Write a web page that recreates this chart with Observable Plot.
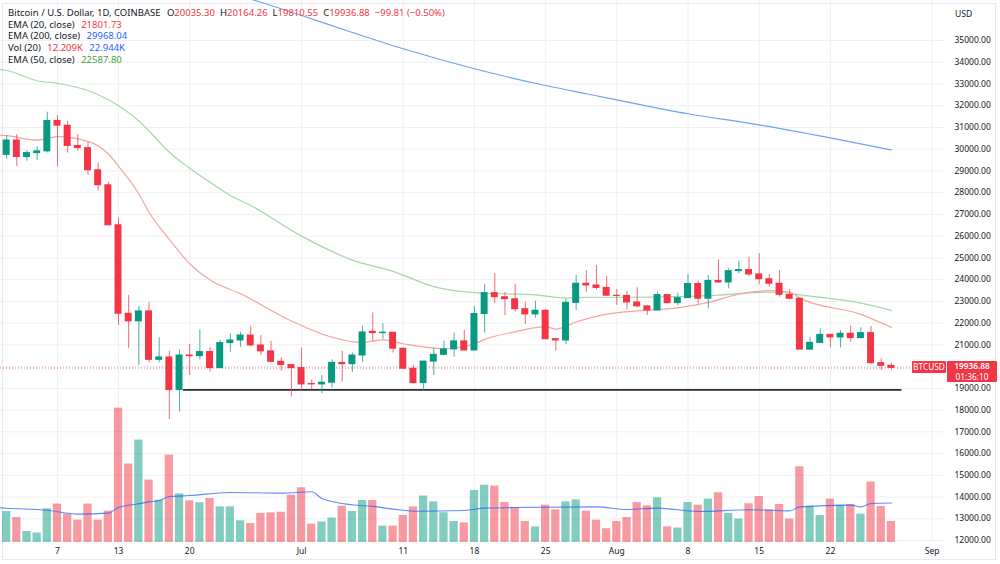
<!DOCTYPE html>
<html>
<head>
<meta charset="utf-8">
<script src="https://cdn.jsdelivr.net/npm/d3@7"></script>
<script src="https://cdn.jsdelivr.net/npm/@observablehq/plot@0.6"></script>
<style>
  html, body { margin: 0; padding: 0; background: #ffffff; }
  #wrap { position: relative; width: 1000px; height: 564px; overflow: hidden; background: #ffffff; font-family: "Noto Sans", sans-serif; }
  #wrap > svg, #wrap > figure { position: absolute; left: 0; top: 0; margin: 0; }
  .frame { position: absolute; left: 2px; top: 3px; width: 994px; height: 557px; border: 1px solid #e6e8ee; box-sizing: border-box; pointer-events: none; }
  .legend { position: absolute; left: 8px; top: 7px; font-size: 9.5px; line-height: 11.7px; color: #131722; white-space: nowrap; }
  .legend span { margin-right: 4px; }
  .legend .v { margin-right: 5px; }
  .red { color: #f23645; }
  .blue { color: #2962ff; }
  .green { color: #43a047; }
  .usd { position: absolute; left: 955px; top: 8px; font-size: 8.5px; color: #131722; }
  .tag { position: absolute; background: #f23645; color: #ffffff; font-size: 8.3px; text-align: center; border-radius: 1px; }
</style>
</head>
<body>
<div id="wrap"><div class="frame"></div></div>
<script>
// ---------------- data ----------------
const firstDay = "2022-06-02";
const lastDay = "2022-08-28";
const openP  = [29740,30400,29640,29820,29900,31300,31080,30150,30050,29030,28340,26500,22430,22080,22540,20310,20420,18920,20510,20480,
                20670,19930,21080,21200,21430,20970,20700,20220,20070,19930,19200,19180,19260,20170,20110,20510,21600,21540,21560,20820,
                19900,19240,20230,20540,20790,21160,20740,22420,23380,23190,23100,22640,22400,22570,21260,21200,22930,23810,23730,23620,
                23260,23250,22950,22770,22580,23290,22920,23150,23800,23120,23940,23870,24390,24440,24240,24020,23810,23300,23120,20780,
                21090,21460,21340,21510,21310,21540,20160,20035.30];
const highP  = [30630,30680,29940,30120,31700,31550,31280,30660,30320,29370,28480,26840,23270,22770,22950,21330,20710,20770,21020,21690,
                20870,21200,21510,21580,21850,21430,21160,20400,20080,20850,19390,19590,20310,20700,20620,21850,22470,21970,21560,20860,
                20050,20240,20850,21160,21550,21660,22760,23780,24270,23410,23780,22960,23010,22610,21300,23090,24190,24420,24650,24140,
                23550,23450,23620,22810,23420,23320,23380,24230,23930,24190,24910,24500,24850,25030,25190,24240,24420,23550,23140,21350,
                21740,21470,21660,21880,21780,21850,20360,20164.26];
const lowP   = [29530,29210,29450,29480,29830,29180,29820,29900,28790,28070,26480,21890,20820,20050,20180,20180,17560,17920,19590,20310,
                19750,19900,20670,20890,20920,20510,20190,19790,18600,18900,18930,18750,19010,19290,19740,20200,21160,21260,20620,19880,
                19200,18860,19590,20500,20430,20730,20740,21540,22890,22340,22500,21940,22230,21230,20710,21020,22580,23420,23530,23220,
                22810,22610,22700,22350,22580,22890,22810,23140,22880,22660,23840,23580,24270,24140,23760,23650,23190,23070,20770,20740,
                21060,20860,20860,21120,21280,20100,19820,19810.55];
const closeP = [30400,29640,29820,29900,31300,31080,30150,30050,29030,28340,26500,22430,22080,22540,20310,20420,18920,20510,20480,20670,
                19930,21080,21200,21430,20970,20700,20220,20070,19930,19180,19180,19260,20170,20110,20510,21570,21540,21560,20820,19900,
                19240,20230,20540,20790,21160,20740,22420,23380,23190,23100,22640,22400,22570,21260,21200,22930,23810,23730,23620,23260,
                23250,22950,22770,22580,23290,22920,23150,23800,23120,23940,23870,24390,24440,24240,24020,23810,23300,23120,20780,21090,
                21460,21340,21510,21310,21540,20160,20036.69,19936.88];
const volumeK = [18.0,14.5,6.4,5.5,19.6,22.3,16.5,13.0,22.3,13.0,18.2,78.1,45.6,59.5,36.3,24.6,50.8,28.3,24.2,23.1,
                 25.6,20.7,20.7,12.6,11.0,16.9,17.2,17.6,27.5,31.8,10.7,11.9,14.2,21.1,18.0,24.4,24.4,9.5,9.5,15.7,
                 20.7,27.0,23.6,17.3,12.2,11.4,30.2,33.3,32.8,23.2,20.3,12.2,9.1,21.7,19.0,23.6,24.8,18.2,13.0,8.0,
                 12.2,14.5,23.2,21.3,26.0,9.1,8.4,23.2,21.7,25.2,28.9,16.9,13.6,22.5,26.7,19.0,22.1,13.6,44.0,21.1,
                 15.7,25.2,21.7,22.1,16.5,35.1,20.9,12.209];

// indicator lines: [date, value]
const ema20 = [["2022-06-01",30650],["2022-06-02",30620],["2022-06-05",30420],["2022-06-07",30580],["2022-06-10",30360],["2022-06-12",29780],
  ["2022-06-13",29220],["2022-06-15",27950],["2022-06-16",27100],["2022-06-18",25850],["2022-06-20",24730],["2022-06-22",23980],
  ["2022-06-25",23350],["2022-06-30",22100],["2022-07-04",21350],["2022-07-07",21110],["2022-07-09",21230],["2022-07-11",21050],
  ["2022-07-15",20820],["2022-07-18",21050],["2022-07-19",21250],["2022-07-22",21600],["2022-07-25",21840],["2022-07-26",21720],
  ["2022-07-28",22050],["2022-07-31",22410],["2022-08-03",22560],["2022-08-07",22700],["2022-08-10",22950],["2022-08-13",23330],
  ["2022-08-16",23490],["2022-08-18",23420],["2022-08-19",23150],["2022-08-25",22400],["2022-08-28",21801.73]];
const ema50 = [["2022-06-01",33680],["2022-06-02",33620],["2022-06-05",33150],["2022-06-07",33030],["2022-06-10",32700],["2022-06-12",32270],
  ["2022-06-15",31300],["2022-06-18",29860],["2022-06-22",28480],["2022-06-24",27870],["2022-06-26",27410],["2022-07-01",26000],
  ["2022-07-06",24900],["2022-07-10",24380],["2022-07-14",23680],["2022-07-18",23400],["2022-07-24",23300],["2022-07-27",23150],
  ["2022-07-29",23190],["2022-08-02",23190],["2022-08-07",23220],["2022-08-11",23290],["2022-08-14",23390],["2022-08-17",23420],
  ["2022-08-19",23300],["2022-08-25",22920],["2022-08-28",22587.80]];
const ema200 = [["2022-06-25",37050],["2022-06-27",36760],["2022-07-01",36150],["2022-07-06",35370],["2022-07-11",34620],["2022-07-18",33700],
  ["2022-07-25",32930],["2022-07-29",32550],["2022-08-01",32270],["2022-08-08",31630],["2022-08-15",31120],["2022-08-22",30520],
  ["2022-08-28",29968.04]];
const volMA20 = [["2022-06-01",20.3],["2022-06-02",19.9],["2022-06-06",18.7],["2022-06-09",16.5],["2022-06-12",17.1],["2022-06-13",20.3],
  ["2022-06-15",22.5],["2022-06-16",23.6],["2022-06-17",24.4],["2022-06-18",26.7],["2022-06-20",27.3],["2022-06-24",29.1],
  ["2022-06-29",28.7],["2022-07-02",29.5],["2022-07-03",25.6],["2022-07-06",21.9],["2022-07-08",21.0],["2022-07-10",19.4],
  ["2022-07-12",18.2],["2022-07-17",18.6],["2022-07-19",20.0],["2022-07-22",20.3],["2022-07-30",20.7],["2022-08-02",19.2],
  ["2022-08-05",20.0],["2022-08-09",18.0],["2022-08-14",19.0],["2022-08-18",18.4],["2022-08-19",20.7],["2022-08-24",21.7],
  ["2022-08-25",20.7],["2022-08-26",22.7],["2022-08-28",22.944]];

// drawn horizontal support line
const supportLine = [{from: "2022-06-19T21:00Z", to: "2022-08-29T13:00Z", price: 18930}];

// axis ticks
const priceTicks = [12000,13000,14000,15000,16000,17000,18000,19000,20000,21000,22000,23000,24000,25000,26000,27000,28000,29000,30000,31000,32000,33000,34000,35000];
const xTickDays = ["2022-06-07","2022-06-13","2022-06-20","2022-07-01","2022-07-11","2022-07-18","2022-07-25","2022-08-01","2022-08-08","2022-08-15","2022-08-22","2022-09-01"];
const xTickLabels = ["7","13","20","Jul","11","18","25","Aug","8","15","22","Sep"];

const symbolTitle = "Bitcoin / U.S. Dollar, 1D, COINBASE";
const countdown = "01:36:10";

// ---------------- build ----------------
const noon = s => new Date(s + "T12:00:00Z");
const days = d3.utcDay.range(new Date(firstDay + "T00:00:00Z"), d3.utcDay.offset(new Date(lastDay + "T00:00:00Z"), 1)).map(d => d3.utcHour.offset(d, 12));
const candles = days.map((date, i) => ({date, open: openP[i], high: highP[i], low: lowP[i], close: closeP[i], vol: volumeK[i]}));
const toPts = arr => arr.map(([d, v]) => ({date: noon(d), v}));
const support = supportLine.map(s => ({from: new Date(s.from), to: new Date(s.to), price: s.price}));
const xTicks = xTickDays.map(noon);
const tickLabel = new Map(xTicks.map((d, i) => [+d, xTickLabels[i]]));

const GREEN = "#089981", RED = "#f23645";
const col = d => d.close >= d.open ? GREEN : RED;
const dayStart = d => d3.utcDay.floor(d.date);
const dayEnd = d => d3.utcDay.offset(d3.utcDay.floor(d.date), 1);

const xDomain = [new Date("2022-06-01T21:30:00Z"), new Date("2022-09-02T19:40:00Z")];
const priceDomain = [11908, 36840];
const volDomain = [0, 315];

const common = {
  width: 1000, height: 564,
  marginTop: 0, marginRight: 55, marginBottom: 22, marginLeft: 0,
  style: {background: "transparent", fontFamily: "'Noto Sans', sans-serif", fontSize: "8.5px", color: "#131722", overflow: "visible"}
};

// layer 1: grid + axes
const gridPlot = Plot.plot({
  ...common,
  x: {type: "utc", domain: xDomain},
  y: {domain: priceDomain},
  marks: [
    Plot.gridX(xTicks, {stroke: "#eef0f4", strokeOpacity: 1}),
    Plot.gridY(priceTicks, {stroke: "#eef0f4", strokeOpacity: 1}),
    Plot.axisY(priceTicks, {anchor: "right", tickSize: 0, tickPadding: 9, tickFormat: d => d.toFixed(2), fill: "#131722", label: null}),
    Plot.axisX(xTicks, {anchor: "bottom", tickSize: 0, tickPadding: 5, tickFormat: d => tickLabel.get(+d), fill: "#131722", label: null})
  ]
});

// layer 2: volume
const volPlot = Plot.plot({
  ...common,
  x: {type: "utc", domain: xDomain, axis: null},
  y: {domain: volDomain, axis: null},
  marks: [
    Plot.rect(candles, {x1: dayStart, x2: dayEnd, y1: 0, y2: "vol", fill: col, fillOpacity: 0.5, insetLeft: 0.95, insetRight: 0.95}),
    Plot.line(toPts(volMA20), {x: "date", y: "v", stroke: "#2962ff", strokeOpacity: 0.75, strokeWidth: 1.1, curve: "monotone-x", clip: true})
  ]
});

// layer 3: price
const lastClose = closeP[closeP.length - 1];
const pricePlot = Plot.plot({
  ...common,
  x: {type: "utc", domain: xDomain, axis: null},
  y: {domain: priceDomain, axis: null},
  marks: [
    Plot.ruleY([lastClose], {stroke: RED, strokeOpacity: 0.8, strokeDasharray: "1,2"}),
    Plot.line(toPts(ema200), {x: "date", y: "v", stroke: "#6ea3f2", strokeWidth: 1.2, curve: "monotone-x", clip: true}),
    Plot.line(toPts(ema50), {x: "date", y: "v", stroke: "#a5d8a6", strokeWidth: 1.2, curve: "monotone-x", clip: true}),
    Plot.line(toPts(ema20), {x: "date", y: "v", stroke: "#f6a39e", strokeWidth: 1.2, curve: "monotone-x", clip: true}),
    Plot.ruleY(support, {y: "price", x1: "from", x2: "to", stroke: "#2a2e39", strokeWidth: 1.6}),
    Plot.ruleX(candles, {x: "date", y1: "low", y2: "high", stroke: col, strokeWidth: 1, strokeOpacity: 0.75}),
    Plot.rect(candles, {x1: dayStart, x2: dayEnd, y1: "open", y2: "close", fill: col, insetLeft: 1.6, insetRight: 1.6, insetTop: -0.5, insetBottom: -0.5})
  ]
});

const wrap = document.getElementById("wrap");
wrap.appendChild(gridPlot);
wrap.appendChild(volPlot);
wrap.appendChild(pricePlot);

// legend
const last = candles[candles.length - 1];
const prev = candles[candles.length - 2];
const chg = last.close - prev.close;
const pct = chg / prev.close * 100;
const minus = v => (v < 0 ? "\u2212" : "") + Math.abs(v).toFixed(2);
const fmtK = v => v.toFixed(3) + "K";
const legend = document.createElement("div");
legend.className = "legend";
legend.innerHTML =
  `<div><span>${symbolTitle}</span> O<span class="red v">${last.open.toFixed(2)}</span>H<span class="red v">${last.high.toFixed(2)}</span>L<span class="red v">${last.low.toFixed(2)}</span>C<span class="red v">${last.close.toFixed(2)}</span><span class="red">${minus(chg)} (${minus(pct)}%)</span></div>` +
  `<div><span>EMA (20, close)</span> <span class="red">${ema20[ema20.length-1][1].toFixed(2)}</span></div>` +
  `<div><span>EMA (200, close)</span> <span class="blue">${ema200[ema200.length-1][1].toFixed(2)}</span></div>` +
  `<div><span>Vol (20)</span> <span class="red">${fmtK(last.vol)}</span> <span class="blue">${fmtK(volMA20[volMA20.length-1][1])}</span></div>` +
  `<div><span>EMA (50, close)</span> <span class="green">${ema50[ema50.length-1][1].toFixed(2)}</span></div>`;
wrap.appendChild(legend);

const usd = document.createElement("div");
usd.className = "usd";
usd.textContent = "USD";
wrap.appendChild(usd);

// last price tags, placed with the plot's own y scale
const yPix = pricePlot.scale("y").apply(lastClose);
const tag1 = document.createElement("div");
tag1.className = "tag";
tag1.style.left = "912px"; tag1.style.top = (yPix - 6) + "px";
tag1.style.width = "34px"; tag1.style.height = "11.5px"; tag1.style.lineHeight = "11.5px";
tag1.textContent = "BTCUSD";
wrap.appendChild(tag1);
const tag2 = document.createElement("div");
tag2.className = "tag";
tag2.style.left = "947px"; tag2.style.top = (yPix - 6) + "px";
tag2.style.width = "50px"; tag2.style.height = "21px"; tag2.style.lineHeight = "10.5px";
tag2.innerHTML = `<div style="font-weight:600">${lastClose.toFixed(2)}</div><div>${countdown}</div>`;
wrap.appendChild(tag2);
</script>
</body>
</html>
